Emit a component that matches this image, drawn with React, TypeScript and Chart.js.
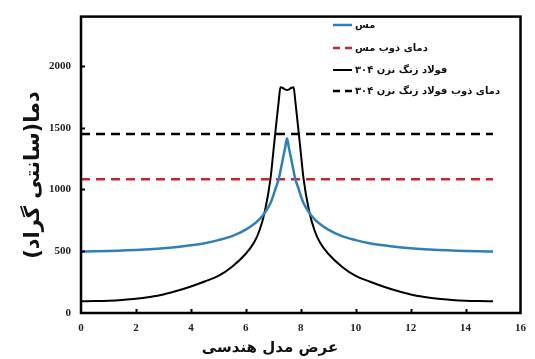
import React, { useEffect, useRef } from "react";
import { Chart, registerables } from "chart.js";

Chart.register(...registerables);

// Geometric model width (x positions)
const xPositions = [
  0, 0.5, 1, 1.5, 2, 2.5, 3, 3.5, 4, 4.5, 5, 5.5, 6, 6.3, 6.5, 6.7, 6.9, 7.0, 7.07, 7.2, 7.26, 7.35, 7.43, 7.5,
  7.57, 7.65, 7.74, 7.8, 7.93, 8.0, 8.1, 8.3, 8.5, 8.7, 9, 9.5, 10, 10.5, 11, 11.5, 12, 12.5, 13, 13.5, 14, 14.5, 15,
];

// Copper temperature (°C)
const copperTemps = [
  497, 499, 502, 506, 510, 516, 524, 535, 548, 565, 590, 622, 675, 720, 760, 815, 890, 950, 1000, 1086, 1150, 1250, 1335, 1415,
  1335, 1250, 1150, 1086, 1000, 950, 890, 815, 760, 720, 675, 622, 590, 565, 548, 535, 524, 516, 510, 506, 502, 499, 497,
];

// Stainless steel 304 temperature (°C)
const steelTemps = [
  95, 97, 100, 106, 115, 130, 150, 180, 215, 255, 300, 375, 480, 570, 670, 830, 1090, 1300, 1453, 1720, 1828, 1822, 1810, 1805,
  1810, 1822, 1828, 1720, 1453, 1300, 1090, 830, 670, 570, 480, 375, 300, 255, 215, 180, 150, 130, 115, 106, 100, 97, 95,
];

const meltRangeX = [0, 15];
const copperMelt = 1083;
const steelMelt = 1450;

const xTickValues = [0, 2, 4, 6, 8, 10, 12, 14, 16];
const yTickValues = [0, 500, 1000, 1500, 2000];

const seriesLabels = ["مس", "دمای ذوب مس", "فولاد زنگ نزن ۳۰۴", "دمای ذوب فولاد زنگ نزن ۳۰۴"];
const xTitle = "عرض مدل هندسی";
const yTitle = "دما(سانتی گراد)";

const BLUE = "#2f80b8";
const RED = "#c9262b";
const BLACK = "#000000";

const ARABIC_FONT = '"DejaVu Sans", "Noto Sans", sans-serif';

const decorPlugin = {
  id: "decor",
  afterDatasetsDraw(chart: any) {
    const { ctx, chartArea: a, scales } = chart;
    ctx.save();
    // inward tick marks
    ctx.strokeStyle = "#000";
    ctx.lineWidth = 2;
    ctx.setLineDash([]);
    xTickValues.forEach((v) => {
      if (v <= 0 || v >= 16) return;
      const px = Math.round(scales.x.getPixelForValue(v)) + 0.5;
      ctx.beginPath();
      ctx.moveTo(px, a.bottom);
      ctx.lineTo(px, a.bottom - 4);
      ctx.stroke();
    });
    yTickValues.forEach((v) => {
      if (v <= 0) return;
      const py = Math.round(scales.y.getPixelForValue(v)) + 0.5;
      ctx.beginPath();
      ctx.moveTo(a.left, py);
      ctx.lineTo(a.left + 4, py);
      ctx.stroke();
    });
    // frame
    ctx.lineWidth = 2.5;
    ctx.strokeRect(a.left, a.top, a.right - a.left, a.bottom - a.top);

    // legend
    const items = chart.data.datasets;
    const legendY = [25, 48, 70, 91];
    const x0 = 333;
    const x1 = 352;
    ctx.font = `bold 10px ${ARABIC_FONT}`;
    ctx.textBaseline = "middle";
    ctx.textAlign = "left";
    items.forEach((ds: any, i: number) => {
      const y = legendY[i];
      ctx.strokeStyle = ds.borderColor;
      ctx.lineWidth = ds.borderWidth;
      ctx.setLineDash(ds.borderDash && ds.borderDash.length ? [7, 5] : []);
      ctx.beginPath();
      ctx.moveTo(x0, y);
      ctx.lineTo(x1, y);
      ctx.stroke();
      ctx.setLineDash([]);
      ctx.fillStyle = "#111";
      (ctx as any).direction = "rtl";
      ctx.fillText(ds.label, x1 + 3, y);
    });

    // axis titles
    ctx.fillStyle = "#111";
    (ctx as any).direction = "rtl";
    ctx.textAlign = "center";
    ctx.textBaseline = "middle";
    ctx.font = `bold 15px ${ARABIC_FONT}`;
    ctx.fillText(xTitle, 270, 348);
    ctx.translate(34, 175);
    ctx.rotate(-Math.PI / 2);
    ctx.font = `bold 21px ${ARABIC_FONT}`;
    ctx.fillText(yTitle, 0, 0);
    ctx.restore();
  },
};

export default function App() {
  const ref = useRef<HTMLCanvasElement | null>(null);
  useEffect(() => {
    document.body.style.margin = "0";
    if (!ref.current) return;
    const tickFont = { family: '"Liberation Serif", serif', size: 11, weight: "bold" as const };
    const chart = new Chart(ref.current, {
      type: "line",
      data: {
        datasets: [
          {
            label: seriesLabels[0],
            data: xPositions.map((x, i) => ({ x, y: copperTemps[i] })),
            borderColor: BLUE,
            borderWidth: 2.5,
            cubicInterpolationMode: "monotone",
            pointRadius: 0,
          },
          {
            label: seriesLabels[1],
            data: meltRangeX.map((x) => ({ x, y: copperMelt })),
            borderColor: RED,
            borderWidth: 2.5,
            borderDash: [9, 6],
            pointRadius: 0,
          },
          {
            label: seriesLabels[2],
            data: xPositions.map((x, i) => ({ x, y: steelTemps[i] })),
            borderColor: BLACK,
            borderWidth: 2,
            cubicInterpolationMode: "monotone",
            pointRadius: 0,
          },
          {
            label: seriesLabels[3],
            data: meltRangeX.map((x) => ({ x, y: steelMelt })),
            borderColor: BLACK,
            borderWidth: 2.5,
            borderDash: [9, 6],
            pointRadius: 0,
          },
        ],
      },
      options: {
        responsive: false,
        animation: false,
        layout: { padding: { top: 12, right: 7, left: 0, bottom: 0 } },
        plugins: { legend: { display: false }, tooltip: { enabled: false } },
        elements: { point: { radius: 0 } },
        scales: {
          x: {
            type: "linear",
            min: 0,
            max: 16,
            afterBuildTicks: (s: any) => {
              s.ticks = xTickValues.map((v) => ({ value: v }));
            },
            afterFit: (s: any) => {
              s.height = 46;
            },
            grid: { display: false, drawTicks: false },
            border: { display: false },
            ticks: {
              padding: 9,
              font: tickFont,
              color: "#222",
              maxRotation: 0,
              autoSkip: false,
              callback: (v: any) => String(v),
            },
          },
          y: {
            type: "linear",
            min: 0,
            max: 2400,
            afterBuildTicks: (s: any) => {
              s.ticks = yTickValues.map((v) => ({ value: v }));
            },
            afterFit: (s: any) => {
              s.width = 81;
            },
            grid: { display: false, drawTicks: false },
            border: { display: false },
            ticks: {
              padding: 10,
              font: tickFont,
              color: "#222",
              autoSkip: false,
              callback: (v: any) => String(v),
            },
          },
        },
      },
      plugins: [decorPlugin],
    });
    return () => chart.destroy();
  }, []);
  return (
    <div style={{ width: 535, height: 359, background: "#fff" }}>
      <canvas ref={ref} width={535} height={359} style={{ display: "block" }} />
    </div>
  );
}
